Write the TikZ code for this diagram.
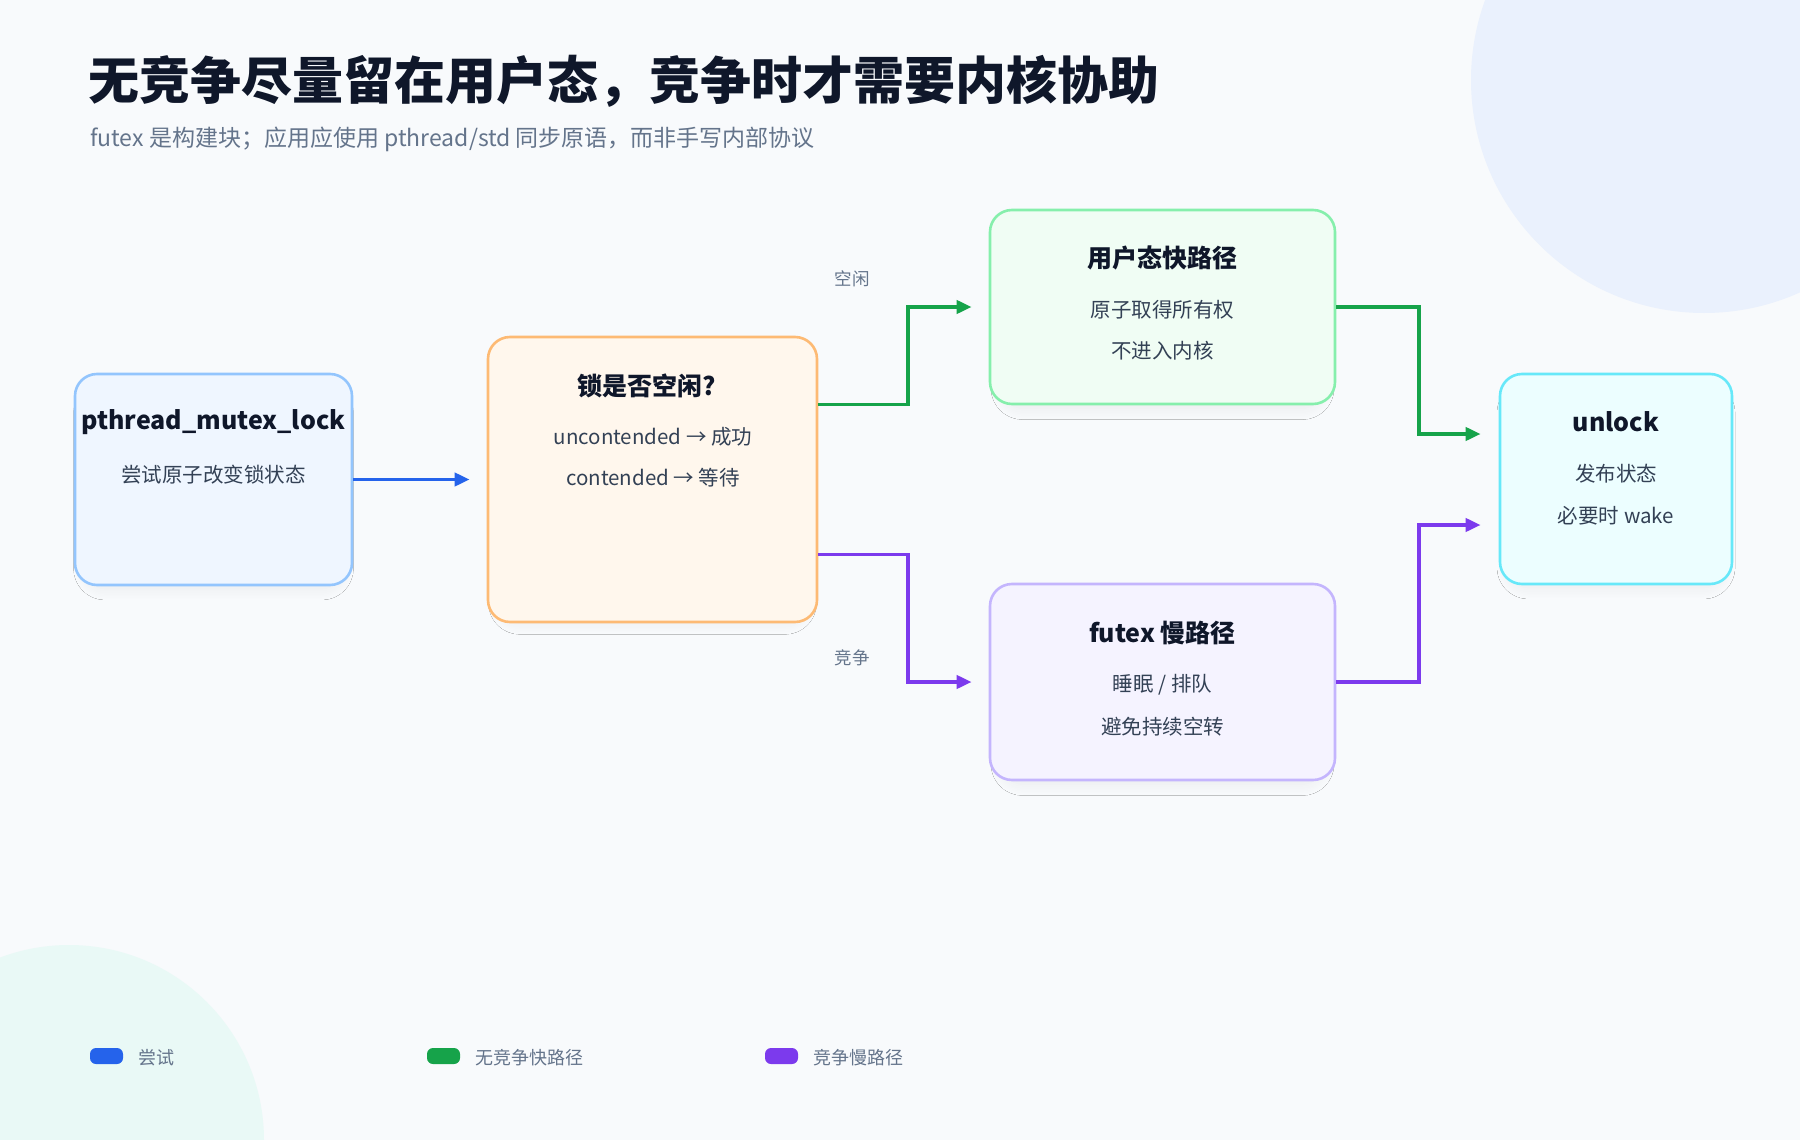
\documentclass[tikz,border=0pt]{standalone}
\usepackage{fontspec}
\setmainfont{Noto Sans CJK SC}
\usetikzlibrary{arrows.meta,shadows.blur}
\definecolor{bg}{HTML}{F8FAFC}
\definecolor{circA}{HTML}{EAF1FD}
\definecolor{circB}{HTML}{E9F9F6}
\definecolor{ink}{HTML}{0F172A}
\definecolor{body}{HTML}{334155}
\definecolor{muted}{HTML}{64748B}
\definecolor{blueA}{HTML}{2563EB}
\definecolor{greenA}{HTML}{16A34A}
\definecolor{purpleA}{HTML}{7C3AED}
\definecolor{lockF}{HTML}{EFF6FF}\definecolor{lockD}{HTML}{93C5FD}
\definecolor{chkF}{HTML}{FFF7ED}\definecolor{chkD}{HTML}{FDBA74}
\definecolor{fastF}{HTML}{F0FDF4}\definecolor{fastD}{HTML}{86EFAC}
\definecolor{slowF}{HTML}{F5F3FF}\definecolor{slowD}{HTML}{C4B5FD}
\definecolor{unlF}{HTML}{ECFEFF}\definecolor{unlD}{HTML}{67E8F9}
\begin{document}
\begin{tikzpicture}[x=1pt,y=-1pt,
  box/.style={draw, line width=2.6pt, rounded corners=22pt, inner sep=0pt,
    blur shadow={shadow xshift=0pt, shadow yshift=-12pt, shadow scale=0.93, shadow blur radius=12pt, shadow blur steps=16, shadow opacity=6}},
  ttl/.style={inner sep=0pt, text=ink, font=\bfseries\fontsize{25}{30}\selectfont},
  txt/.style={inner sep=0pt, text=body, font=\fontsize{20.5}{25}\selectfont},
  lbl/.style={inner sep=0pt, text=muted, font=\fontsize{17.5}{21}\selectfont},
  arr/.style={line width=3.8pt, -{Triangle[length=15pt,width=13pt]}},
  legsw/.style={rounded corners=6pt, minimum width=33pt, minimum height=16pt, inner sep=0pt},
  legtxt/.style={inner sep=0pt, anchor=west, text=muted, font=\fontsize{18}{22}\selectfont}
]
\fill[bg] (0,0) rectangle (1800,1140);
\useasboundingbox (0,0) rectangle (1800,1140);
\begin{scope}
  \clip (0,0) rectangle (1800,1140);
  \fill[circA] (1704,80) circle[radius=233pt];
  \fill[circB] (69,1140) circle[radius=195pt];
\end{scope}

\node[anchor=west, inner sep=0pt, text=ink, font=\bfseries\fontsize{51}{60}\selectfont] (title) at (88,81) {无竞争尽量留在用户态，竞争时才需要内核协助};
\node[anchor=west, inner sep=0pt, text=muted, font=\fontsize{23}{28}\selectfont] (sub) at (90,139) {futex 是构建块；应用应使用 pthread/std 同步原语，而非手写内部协议};

% boxes
\node[box, fill=lockF, draw=lockD, minimum width=277pt, minimum height=211pt] (lock) at (213.5,479.5) {};
\node[box, fill=chkF, draw=chkD, minimum width=329pt, minimum height=285pt] (check) at (652.5,479.5) {};
\node[box, fill=fastF, draw=fastD, minimum width=345pt, minimum height=194pt] (fast) at (1162.5,307) {};
\node[box, fill=slowF, draw=slowD, minimum width=345pt, minimum height=196pt] (slow) at (1162.5,682) {};
\node[box, fill=unlF, draw=unlD, minimum width=232pt, minimum height=210pt] (unl) at (1616,479) {};

% texts
\node[ttl] (lockT) at (213.5,422) {pthread\_mutex\_lock};
\node[txt] (lockL) at (213.5,475) {尝试原子改变锁状态};

\node[ttl] (chkT) at (647,386) {锁是否空闲?};
\node[txt] (chkL1) at (653,437) {uncontended → 成功};
\node[txt] (chkL2) at (653,478) {contended → 等待};

\node[ttl] (fastT) at (1162.5,258) {用户态快路径};
\node[txt] (fastL1) at (1162.5,310) {原子取得所有权};
\node[txt] (fastL2) at (1162.5,351) {不进入内核};

\node[ttl] (slowT) at (1162.5,633) {futex 慢路径};
\node[txt] (slowL1) at (1162.5,685) {睡眠 / 排队};
\node[txt] (slowL2) at (1162.5,727) {避免持续空转};

\node[ttl] (unlT) at (1616,422) {unlock};
\node[txt] (unlL1) at (1616,474) {发布状态};
\node[txt] (unlL2) at (1616,516) {必要时 wake};

% connectors
\draw[arr, blueA] (lock.east) -- ([xshift=-17pt]check.west);
\draw[arr, greenA] ([yshift=75pt]check.east) -- ++(90pt,0) |- ([xshift=-17pt]fast.west);
\draw[arr, purpleA] ([yshift=-75pt]check.east) -- ++(90pt,0) |- ([xshift=-17pt]slow.west);
\draw[arr, greenA] (fast.east) -- ++(83pt,0) |- ([xshift=-18pt,yshift=45pt]unl.west);
\draw[arr, purpleA] (slow.east) -- ++(83pt,0) |- ([xshift=-18pt,yshift=-46pt]unl.west);

\node[lbl] (idle) at (852,279) {空闲};
\node[lbl] (cont) at (852,658) {竞争};

% legend
\node[legsw, fill=blueA] (legA) at (106.5,1056) {};
\node[legtxt] (legAt) at (138,1058) {尝试};
\node[legsw, fill=greenA] (legB) at (443.5,1056) {};
\node[legtxt] (legBt) at (475,1058) {无竞争快路径};
\node[legsw, fill=purpleA] (legC) at (781.5,1056) {};
\node[legtxt] (legCt) at (813,1058) {竞争慢路径};
\end{tikzpicture}
\end{document}
